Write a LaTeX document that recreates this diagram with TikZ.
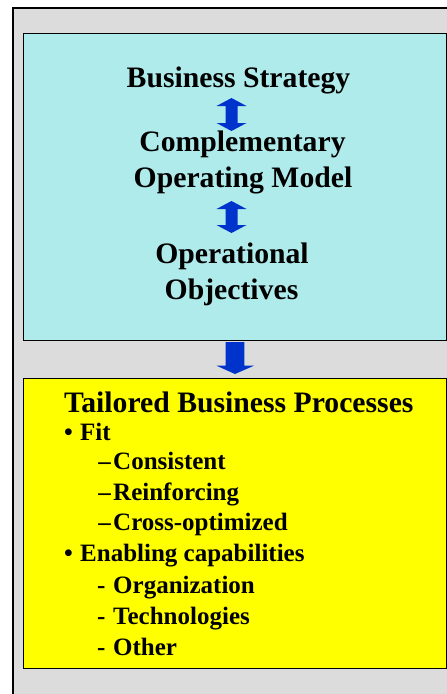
\documentclass[tikz,border=0pt]{standalone}
\usepackage{fontspec}
\setmainfont{Liberation Serif}
\definecolor{bggrey}{RGB}{220,220,220}
\definecolor{boxcyan}{RGB}{175,235,235}
\definecolor{boxyellow}{RGB}{255,255,0}
\definecolor{arrowblue}{RGB}{0,51,204}
\tikzset{
  panel/.style={draw=black, line width=1pt},
  bigtext/.style={font=\fontsize{29.7}{34}\selectfont\bfseries, inner sep=0pt},
  midtext/.style={font=\fontsize{25}{29}\selectfont\bfseries, inner sep=0pt, anchor=base west},
  blockarrow/.style={fill=arrowblue, draw=none}
}
\begin{document}
\begin{tikzpicture}[x=1pt,y=-1pt]
\useasboundingbox (0,0) rectangle (447,694);
% outer grey panel
\fill[white] (0,0) rectangle (447,694);
\fill[bggrey] (13,8) rectangle (460,710);
\draw[line width=1.2pt] (13,710) -- (13,8) -- (460,8);
% cyan box
\draw[panel, fill=boxcyan] (23,33) rectangle (446,340);
% yellow box
\draw[panel, fill=boxyellow] (23,378) rectangle (446,668);

% cyan texts
\node[bigtext, anchor=base] (bs) at (238.5,87) {Business Strategy};
\node[bigtext, anchor=base] (cm1) at (242.5,151) {Complementary};
\node[bigtext, anchor=base] (cm2) at (243,187) {Operating Model};
\node[bigtext, anchor=base] (oo1) at (232,263) {Operational};
\node[bigtext, anchor=base] (oo2) at (231.5,299) {Objectives};

% double arrows
\fill[blockarrow] (231.5,98) -- (246.5,106) -- (237.5,106) -- (237.5,123) -- (246.5,123)
  -- (231.5,131) -- (216.5,123) -- (225.5,123) -- (225.5,106) -- (216.5,106) -- cycle;
\fill[blockarrow] (231.5,201) -- (246.5,209) -- (237.5,209) -- (237.5,225) -- (246.5,225)
  -- (231.5,233) -- (216.5,225) -- (225.5,225) -- (225.5,209) -- (216.5,209) -- cycle;
% down arrow
\fill[blockarrow] (225.7,342) -- (244.3,342) -- (244.3,365.7) -- (254,365.7) -- (235,374)
  -- (216.5,365.7) -- (225.7,365.7) -- cycle;

% yellow texts
\node[bigtext, anchor=base west] (tbp) at (64,412) {Tailored Business Processes};
\node[midtext] (b1) at (64,440) {•};
\node[midtext] (fit) at (80,440) {Fit};
\node[midtext, anchor=base east] (d1) at (111,469) {–};
\node[midtext] (cons) at (113,469) {Consistent};
\node[midtext, anchor=base east] (d2) at (111,500) {–};
\node[midtext] (reinf) at (113,500) {Reinforcing};
\node[midtext, anchor=base east] (d3) at (111,530) {–};
\node[midtext] (cross) at (113,530) {Cross-optimized};
\node[midtext] (b2) at (64,561) {•};
\node[midtext] (enab) at (80,561) {Enabling capabilities};
\node[midtext] (h1) at (97,593) {-};
\node[midtext] (org) at (113,593) {Organization};
\node[midtext] (h2) at (97,624) {-};
\node[midtext] (tech) at (113,624) {Technologies};
\node[midtext] (h3) at (97,655) {-};
\node[midtext] (oth) at (113,655) {Other};
\end{tikzpicture}
\end{document}
